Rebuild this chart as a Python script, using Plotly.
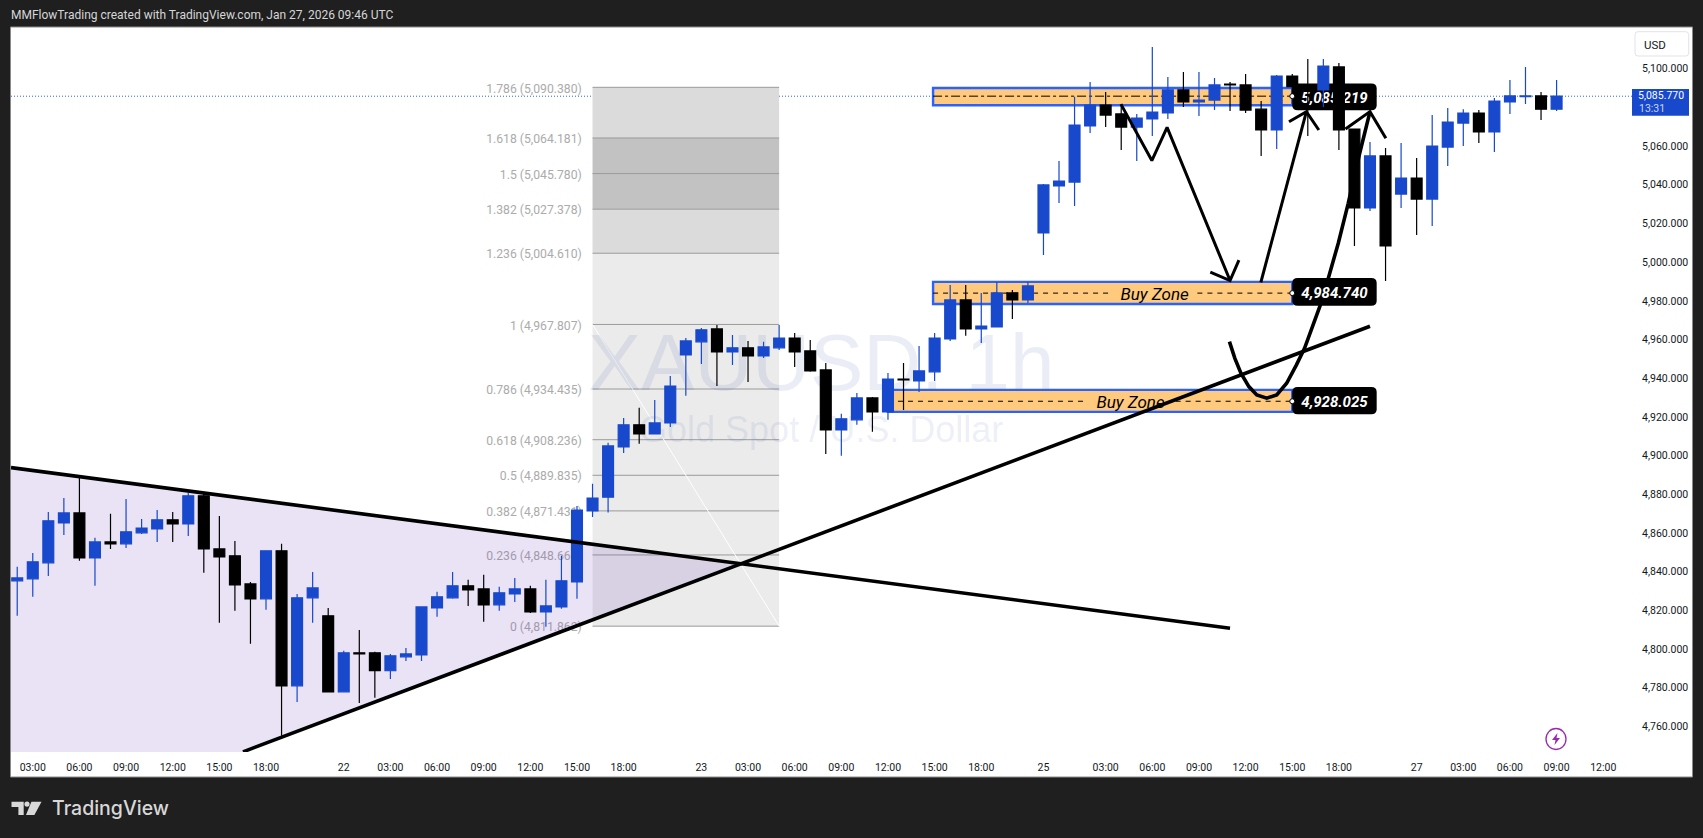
import plotly.graph_objects as go

# ---------- data ----------
# the readings below were taken against the printed price labels, which sit 0.7 above the true level
LABEL_OFFSET = 0.7
opens = [4834.6,4835.6,4843.9,4864.5,4869.7,4846.4,4854.7,4853.7,4859.4,4861.4,4866.1,4864.0,4878.5,4851.1,4847.5,4833.0,4825.3,4850.1,4780.3,4825.8,
4816.5,4777.2,4797.4,4797.4,4788.1,4795.3,4796.3,4820.6,4825.8,4832.0,4830.4,4822.2,4827.8,4830.4,4818.5,4821.1,4834.0,4870.7,4877.8,4903.8,
4915.2,4910.5,4916.2,4951.3,4958.1,4964.8,4952.9,4955.0,4950.8,4955.0,4960.1,4953.4,4943.6,4912.6,4917.8,4929.1,4921.9,4938.9,4937.9,4942.6,
4959.6,4979.8,4964.8,4965.8,4983.4,4979.8,5014.4,5038.7,5040.7,5069.7,5080.5,5075.9,5069.1,5073.3,5076.4,5088.3,5082.1,5083.1,5091.4,5090.9,
5078.4,5067.6,5095.5,5090.0,5088.3,5100.2,5068.1,5027.3,5054.2,5034.5,5042.8,5031.9,5058.8,5071.2,5076.4,5066.6,5082.1,5084.8,5085.2,5078.4]
highs = [4841.8,4849.0,4870.2,4877.4,4887.8,4856.8,4869.2,4876.9,4866.6,4871.2,4870.2,4880.0,4879.5,4868.1,4855.2,4834.0,4850.1,4853.7,4827.8,4839.2,
4820.6,4798.4,4809.2,4797.9,4796.8,4799.9,4821.1,4828.9,4839.2,4835.1,4837.7,4831.5,4836.1,4832.0,4835.1,4847.5,4873.3,4884.7,4905.9,4918.8,
4924.0,4928.1,4940.5,4960.1,4965.3,4966.8,4961.7,4958.6,4958.1,4966.8,4962.7,4959.1,4947.2,4920.9,4931.7,4929.6,4942.0,4947.2,4956.0,4962.7,
4987.5,4987.5,4983.4,4989.1,4984.9,4989.1,5039.7,5051.6,5084.8,5092.4,5087.2,5080.5,5075.9,5110.5,5095.0,5097.6,5097.6,5094.5,5092.4,5096.5,
5082.6,5096.0,5096.5,5104.3,5104.3,5102.2,5068.1,5061.4,5058.3,5060.9,5053.1,5075.3,5079.0,5078.4,5077.9,5084.1,5093.4,5100.2,5087.2,5093.4]
lows = [4816.5,4826.3,4837.1,4858.3,4844.9,4832.0,4851.1,4851.6,4858.8,4854.7,4854.7,4857.8,4838.7,4812.9,4819.1,4802.0,4819.6,4754.5,4772.0,4812.9,
4777.2,4777.2,4771.5,4774.1,4783.9,4793.2,4793.2,4816.0,4825.3,4821.6,4813.4,4819.1,4823.7,4818.0,4810.8,4820.1,4825.3,4867.6,4869.9,4900.7,
4905.4,4910.5,4914.1,4930.2,4946.7,4935.3,4946.2,4937.4,4949.8,4953.9,4945.1,4942.6,4900.2,4899.2,4915.2,4911.6,4917.8,4922.9,4932.2,4937.9,
4958.6,4961.2,4957.5,4965.8,4969.9,4978.2,5003.0,5029.9,5028.3,5066.0,5069.1,5057.3,5051.6,5064.5,5073.3,5079.5,5074.8,5077.9,5077.4,5076.4,
5054.2,5057.8,5084.8,5064.5,5079.5,5057.3,5007.7,5025.7,4989.6,5027.3,5013.3,5018.0,5049.0,5059.3,5060.9,5056.2,5075.9,5081.0,5072.8,5077.4]
closes = [4836.1,4844.4,4865.6,4869.7,4846.4,4854.7,4853.7,4859.9,4861.9,4866.1,4864.0,4878.5,4851.1,4847.0,4832.5,4825.3,4850.1,4780.3,4825.8,4830.9,
4777.2,4797.4,4796.8,4788.1,4795.8,4796.8,4821.1,4826.3,4832.0,4829.9,4822.2,4828.4,4830.4,4818.5,4821.6,4834.6,4871.2,4877.4,4904.3,4915.2,
4910.5,4916.2,4935.3,4958.6,4964.3,4952.9,4955.0,4950.8,4955.5,4960.1,4952.9,4943.1,4912.6,4918.3,4929.1,4921.9,4938.9,4938.4,4943.1,4960.1,
4979.8,4964.8,4966.3,4983.4,4979.8,4987.0,5039.2,5041.2,5070.2,5080.5,5075.3,5069.1,5073.8,5076.9,5088.3,5082.1,5083.1,5090.9,5090.9,5077.9,
5067.6,5095.5,5090.0,5088.3,5100.7,5067.6,5027.3,5054.2,5007.7,5042.8,5031.9,5059.3,5071.7,5076.4,5066.6,5082.6,5085.2,5085.2,5078.4,5085.07]
opens = [round(v + LABEL_OFFSET, 2) for v in opens]
highs = [round(v + LABEL_OFFSET, 2) for v in highs]
lows = [round(v + LABEL_OFFSET, 2) for v in lows]
closes = [round(v + LABEL_OFFSET, 2) for v in closes]
bars = list(range(len(opens)))

x_ticks = [1,4,7,10,13,16,21,24,27,30,33,36,39,44,47,50,53,56,59,62,66,70,73,76,79,82,85,90,93,96,99,102]
x_labels = ["03:00","06:00","09:00","12:00","15:00","18:00","22","03:00","06:00","09:00","12:00","15:00","18:00","23",
            "03:00","06:00","09:00","12:00","15:00","18:00","25","03:00","06:00","09:00","12:00","15:00","18:00","27",
            "03:00","06:00","09:00","12:00"]
y_ticks = [5100,5060,5040,5020,5000,4980,4960,4940,4920,4900,4880,4860,4840,4820,4800,4780,4760]

fib_ratios = ["1.786","1.618","1.5","1.382","1.236","1","0.786","0.618","0.5","0.382","0.236","0"]
fib_prices = [5090.380,5064.181,5045.780,5027.378,5004.610,4967.807,4934.435,4908.236,4889.835,4871.431,4848.660,4811.862]
fib_fills = ["#DBDBDB","#C2C2C2","#C2C2C2","#DBDBDB","#EBEBEB","#EBEBEB","#EBEBEB","#EBEBEB","#EBEBEB","#EBEBEB","#EBEBEB"]

Y_LOW, Y_HIGH = 4746.81, 5121.55
wedge_x = [-0.4,46.57,14.52,-0.4]
wedge_y = [4893.8,4844.1,Y_LOW,Y_LOW]
fall_x = [-0.4,78.0]; fall_y = [4893.8,4810.8]
rise_x = [14.52,87.0]; rise_y = [4746.9,4966.9]
curve_x = [77.96,78.31,78.70,79.21,79.72,80.36,81.0,81.64,82.27,82.79,83.30,83.81,84.32,84.96,85.6,86.23,87.0]
curve_y = [4958.9,4950.3,4942.6,4935.7,4931.4,4929.7,4931.4,4937.4,4946.9,4955.5,4966.7,4977.9,4991.7,5009.8,5030.4,5052.8,5077.8]
curve_head_x = [85.42,87.0,88.02]; curve_head_y = [5068.8,5077.8,5064.0]
down_x = [70.98,72.97,73.95,78.0]; down_y = [5081.7,5052.5,5069.7,4990.5]
down_head_x = [76.73,78.0,78.57]; down_head_y = [4994.8,4990.5,5001.1]
up_x = [79.98,82.91]; up_y = [4989.6,5077.8]
up_head_x = [81.79,82.91,83.71]; up_head_y = [5072.6,5077.8,5068.3]

zone_x0 = [58.9,58.9,56.0]; zone_x1 = [82.0,82.0,82.0]
zone_top = [5090.0,4989.8,4934.0]; zone_bot = [5081.1,4978.4,4922.6]
zone_mid = [5085.8,4984.0,4928.1]
zone_gap0 = [None,70.4,68.7]; zone_gap1 = [None,75.9,74.5]
zone_labels = ["5,085.219","4,984.740","4,928.025"]
tag_top = [5092.4,4991.8,4935.5]; tag_bot = [5078.5,4977.5,4921.4]
last_price = 5085.77

# ---------- helpers ----------
PW, PH = 1621.0, 725.0
BLUE, ZONE, EDGE = "#1848CC", "#FFC97E", "#2962FF"
SANS = "Roboto, sans-serif"
px = lambda v: (v - 11) / PW
py = lambda v: (752 - v) / PH

def box_path(x0, x1, y0, y1, rx, ry):
    return (f"M{x0+rx},{y0} L{x1-rx},{y0} Q{x1},{y0} {x1},{y0+ry} L{x1},{y1-ry} Q{x1},{y1} {x1-rx},{y1} "
            f"L{x0+rx},{y1} Q{x0},{y1} {x0},{y1-ry} L{x0},{y0+ry} Q{x0},{y0} {x0+rx},{y0} Z")

def note(text, x, y, xanchor="center", **font):
    notes.append(dict(text=text, xref="paper", yref="paper", x=px(x), y=py(y), xanchor=xanchor, yanchor="middle",
                      showarrow=False, font=font))

shapes, notes = [], []

# white chart panel
shapes.append(dict(type="rect", xref="paper", yref="paper", x0=px(10.5), x1=px(1692.5), y0=py(777), y1=py(27),
                   fillcolor="white", line=dict(color="#8a8a8a", width=1), layer="below"))
# fib bands
for i, c in enumerate(fib_fills):
    shapes.append(dict(type="rect", x0=37, x1=49, y0=fib_prices[i+1], y1=fib_prices[i], fillcolor=c,
                       line=dict(width=0), layer="below"))
for r, p in zip(fib_ratios, fib_prices):
    shapes.append(dict(type="line", x0=37, x1=49, y0=p, y1=p, line=dict(color="#9A9A9A", width=1), layer="below"))
    shapes.append(dict(type="rect", x0=28, x1=36.5, y0=p-8, y1=p+8, line=dict(width=0), fillcolor="rgba(0,0,0,0)", layer="below",
                       label=dict(text=f"{r} ({p:,.3f})", textposition="middle right", padding=0,
                                  font=dict(family=SANS, size=12.2, color="#ABABAB"))))
shapes.append(dict(type="line", x0=37, x1=49, y0=fib_prices[5], y1=fib_prices[-1], line=dict(color="white", width=1), layer="below"))
# wedge
shapes.append(dict(type="path", layer="below", line=dict(width=0), fillcolor="rgba(103,58,183,0.14)",
                   path="M" + " L".join(f"{a},{b}" for a, b in zip(wedge_x, wedge_y)) + " Z"))
# watermark
shapes.append(dict(type="rect", x0=29, x1=74.4, y0=4930, y1=4975, line=dict(width=0), fillcolor="rgba(0,0,0,0)", layer="below",
                   label=dict(text="XAUUSD, 1h", textposition="middle center", padding=0,
                              font=dict(family="Liberation Sans", size=80, color="rgba(70,95,175,0.11)"))))
shapes.append(dict(type="rect", x0=29, x1=74.4, y0=4904.8, y1=4924.8, line=dict(width=0), fillcolor="rgba(0,0,0,0)", layer="below",
                   label=dict(text="Gold Spot / U.S. Dollar", textposition="middle center", padding=0,
                              font=dict(family="Liberation Sans", size=36, color="rgba(70,95,175,0.11)"))))
# zones
for i in range(3):
    shapes.append(dict(type="rect", x0=zone_x0[i], x1=zone_x1[i], y0=zone_bot[i], y1=zone_top[i], fillcolor=ZONE,
                       line=dict(color=EDGE, width=2.4), layer="below"))
    if zone_gap0[i] is None:
        segs = [(zone_x0[i], zone_x1[i])]
    else:
        segs = [(zone_x0[i], zone_gap0[i]), (zone_gap1[i], zone_x1[i])]
    for a, b in segs:
        shapes.append(dict(type="line", x0=a, x1=b, y0=zone_mid[i], y1=zone_mid[i],
                           line=dict(color="black", width=1, dash="dashdot" if i == 0 else "5px,5px"), layer="below"))
    if zone_gap0[i] is not None:
        shapes.append(dict(type="rect", x0=zone_gap0[i], x1=zone_gap1[i], y0=zone_bot[i], y1=zone_top[i], line=dict(width=0),
                           fillcolor="rgba(0,0,0,0)", layer="below",
                           label=dict(text="<i>Buy Zone</i>", textposition="middle center", padding=0,
                                      font=dict(family="Roboto", size=17, color="black"))))
# last price line
shapes.append(dict(type="line", xref="paper", x0=0, x1=1, y0=last_price, y1=last_price,
                   line=dict(color=EDGE, width=1, dash="1px,2px"), layer="below"))
# hand-drawn curve: passes behind the price tags
shapes.append(dict(type="path", layer="below", line=dict(color="black", width=3.6),
                   path="M" + " L".join(f"{a},{b}" for a, b in zip(curve_x, curve_y))))
# price tags
for i in range(3):
    shapes.append(dict(type="path", layer="below", fillcolor="black", line=dict(width=0),
                       path=box_path(82.0, 87.43, tag_bot[i], tag_top[i], 0.35, 2.6)))
    shapes.append(dict(type="rect", x0=82.0, x1=87.43, y0=tag_bot[i], y1=tag_top[i], line=dict(width=0),
                       fillcolor="rgba(0,0,0,0)", layer="below",
                       label=dict(text=f"<b><i>{zone_labels[i]}</i></b>", textposition="middle center", padding=0,
                                  font=dict(family="Roboto", size=15, color="white"))))
# last price tag, right of the pane
shapes.append(dict(type="rect", xref="paper", x0=px(1632), x1=px(1689), yref="paper", y0=py(115.7), y1=py(89),
                   fillcolor=BLUE, line=dict(width=0), layer="above"))
note("5,085.770", 1661, 95.5, family=SANS, size=10.5, color="white")
note("13:31", 1651.5, 108, family=SANS, size=10.5, color="#C8D6F5")
# USD button
shapes.append(dict(type="path", xref="paper", yref="paper", fillcolor="white", line=dict(color="#E0E3EB", width=1), layer="above",
                   path=box_path(px(1635), px(1688.7), py(56), py(31.7), 3/PW, 3/PH)))
note("USD", 1654.5, 44.5, family=SANS, size=11.5, color="#131722")
# lightning badge
shapes.append(dict(type="circle", xref="paper", yref="paper", x0=px(1546), x1=px(1566), y0=py(749.5), y1=py(728.5),
                   fillcolor="white", line=dict(color="#9C27B0", width=1.3), layer="above"))
shapes.append(dict(type="path", xref="paper", yref="paper", fillcolor="#9C27B0", line=dict(width=0), layer="above",
                   path=f"M{px(1557.5)},{py(733)} L{px(1552)},{py(740)} L{px(1555.5)},{py(740)} L{px(1554.5)},{py(745)} "
                        f"L{px(1560)},{py(738)} L{px(1556.5)},{py(738)} Z"))
# footer logo
shapes.append(dict(type="path", xref="paper", yref="paper", fillcolor="#D8D8D8", line=dict(width=0), layer="above",
                   path=f"M{px(11.5)},{py(801.7)} L{px(23.7)},{py(801.7)} L{px(23.7)},{py(815)} L{px(18.4)},{py(815)} "
                        f"L{px(18.4)},{py(806.9)} L{px(11.5)},{py(806.9)} Z"))
shapes.append(dict(type="circle", xref="paper", yref="paper", fillcolor="#D8D8D8", line=dict(width=0), layer="above",
                   x0=px(24.4), x1=px(29.6), y0=py(806.8), y1=py(801.4)))
shapes.append(dict(type="path", xref="paper", yref="paper", fillcolor="#D8D8D8", line=dict(width=0), layer="above",
                   path=f"M{px(31.4)},{py(801.7)} L{px(41.5)},{py(801.7)} L{px(34.4)},{py(815)} L{px(26)},{py(815)} Z"))

note("TradingView", 50, 808, xanchor="left", family="Inter", size=19.5, color="#D8D8D8", weight=500)
note("MMFlowTrading created with TradingView.com, Jan 27, 2026 09:46 UTC", 9, 15, xanchor="left",
     family=SANS, size=12, color="#D6D6D6")

# ---------- traces ----------
fig = go.Figure()
fig.add_trace(go.Candlestick(x=bars, open=opens, high=highs, low=lows, close=closes, whiskerwidth=0, hoverinfo="skip",
                             increasing=dict(fillcolor=BLUE, line=dict(color=BLUE, width=1.2)),
                             decreasing=dict(fillcolor="black", line=dict(color="black", width=1.2))))
for xs, ys in [(fall_x, fall_y), (rise_x, rise_y)]:
    fig.add_trace(go.Scatter(x=xs, y=ys, mode="lines", line=dict(color="black", width=3.6), hoverinfo="skip"))
for xs, ys in [(curve_head_x, curve_head_y), (down_x, down_y), (down_head_x, down_head_y), (up_x, up_y), (up_head_x, up_head_y)]:
    fig.add_trace(go.Scatter(x=xs, y=ys, mode="lines", line=dict(color="black", width=3), hoverinfo="skip"))
fig.add_trace(go.Scatter(x=[82.0]*3, y=zone_mid, mode="markers", hoverinfo="skip",
                         marker=dict(size=5, color="white", line=dict(color="black", width=1))))

fig.update_layout(
    width=1703, height=838, autosize=False, showlegend=False, boxgap=0.3, boxgroupgap=0,
    margin=dict(l=11, r=71, t=27, b=86, pad=0, autoexpand=False),
    paper_bgcolor="#1F1F1F", plot_bgcolor="white", shapes=shapes, annotations=notes,
    xaxis=dict(range=[-0.4, 103.85], tickmode="array", tickvals=x_ticks, ticktext=x_labels, showgrid=False, zeroline=False,
               showline=False, ticks="outside", ticklen=5, tickcolor="rgba(0,0,0,0)", rangeslider=dict(visible=False),
               tickfont=dict(family=SANS, size=10.5, color="#131722"), tickangle=0),
    yaxis=dict(range=[Y_LOW, Y_HIGH], side="right", tickmode="array", tickvals=y_ticks, tickformat=",.3f", showgrid=False,
               zeroline=False, showline=False, ticks="outside", ticklen=7, tickcolor="rgba(0,0,0,0)",
               tickfont=dict(family=SANS, size=10.5, color="#131722")),
)
fig.write_html("out.html", config=dict(displayModeBar=False),
               post_script="document.body.style.margin='0';document.body.style.overflow='hidden';")
